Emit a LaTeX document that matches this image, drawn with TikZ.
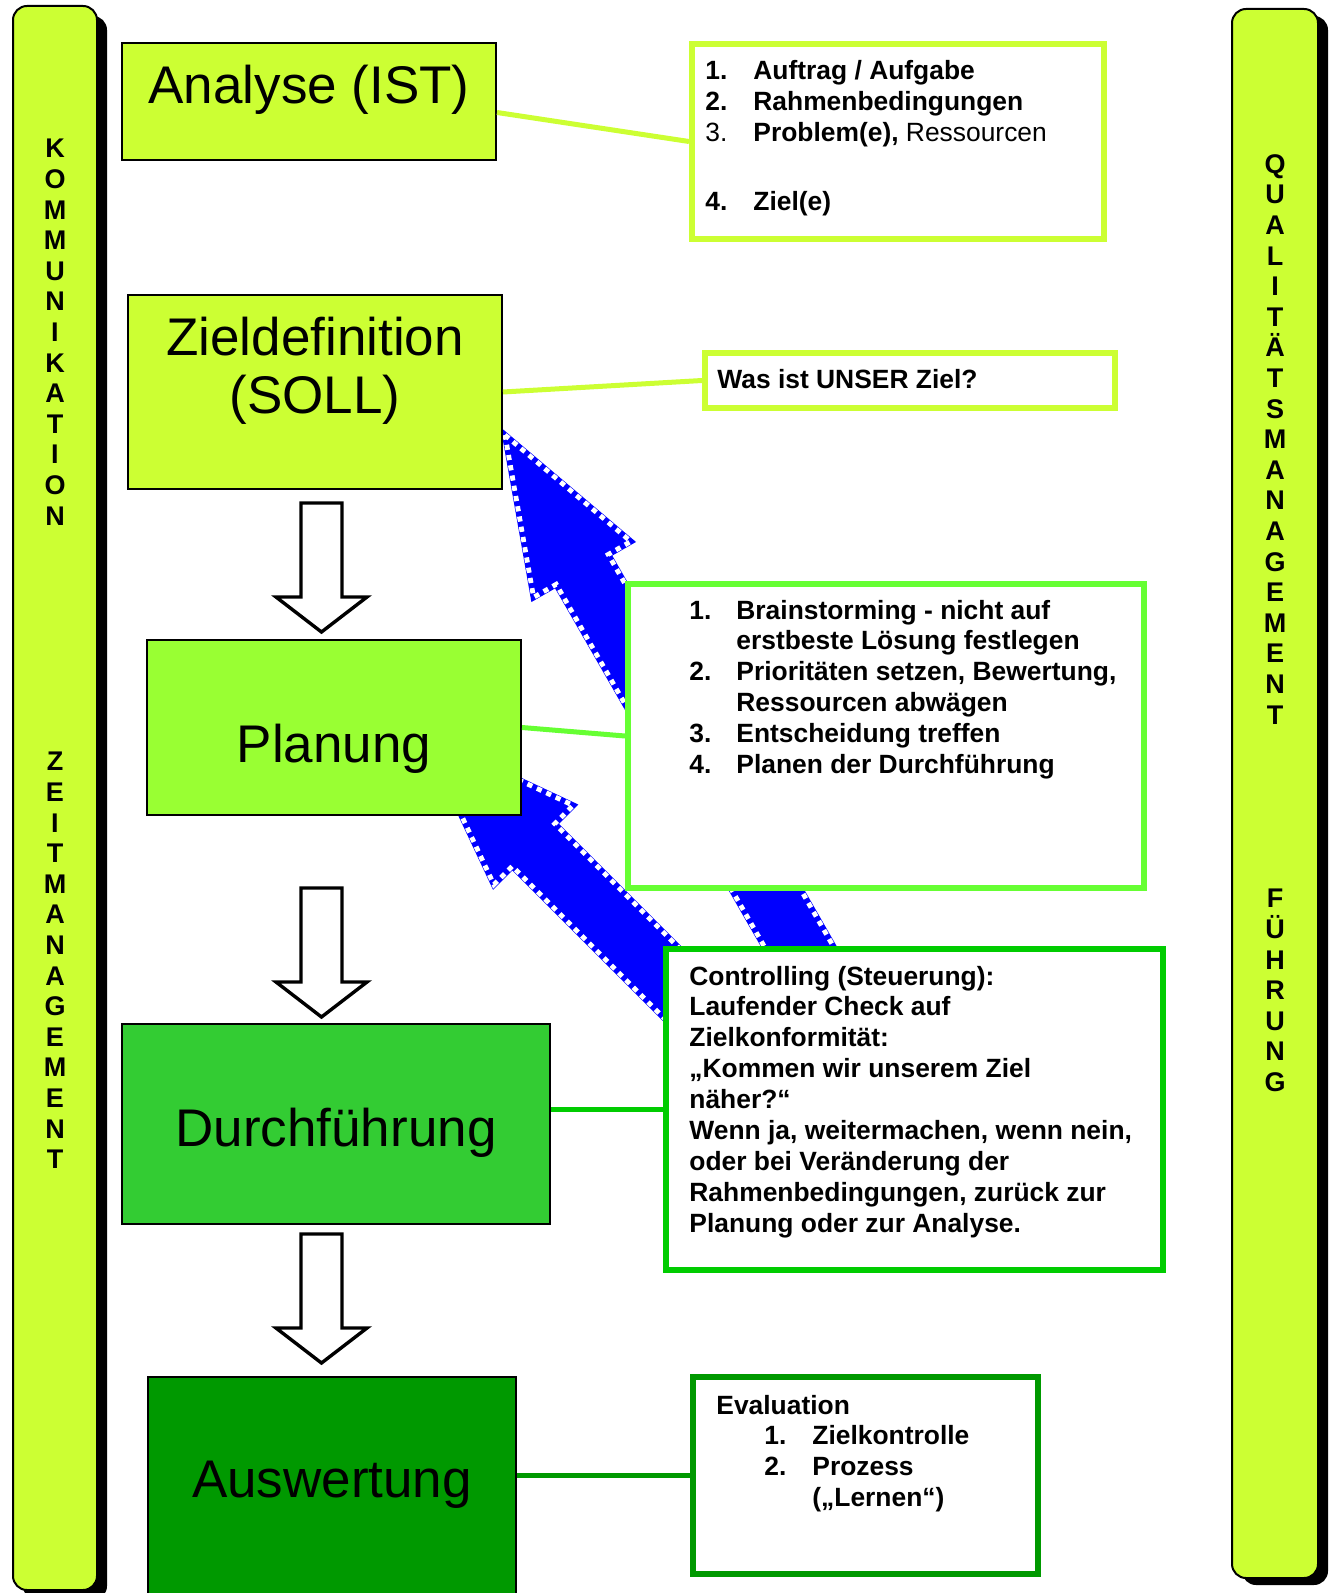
\documentclass[tikz,border=0pt]{standalone}
\usepackage{fontspec}
\setmainfont{Liberation Sans}
\usepackage{tikz}
\usetikzlibrary{fit}
\definecolor{lime}{RGB}{204, 255, 51}
\definecolor{chartreuse}{RGB}{153, 255, 51}
\definecolor{spring}{RGB}{102, 255, 51}
\definecolor{leaf}{RGB}{51, 204, 51}
\definecolor{grass}{RGB}{0, 204, 0}
\definecolor{forest}{RGB}{0, 153, 0}
\definecolor{royal}{RGB}{0, 0, 255}
\tikzset{
  phase/.style={draw=black, line width=1pt, inner sep=0pt},
  phasetext/.style={anchor=base, inner sep=0pt, font=\fontsize{26.5}{29}\selectfont},
  notebox/.style={draw, fill=white, line width=3pt, inner sep=0pt},
  notetext/.style={anchor=base west, inner sep=0pt, font=\fontsize{13.2}{15.45}\selectfont\bfseries},
  link/.style={line width=2.5pt},
  bar/.style={fill=lime, draw=black, line width=1pt, rounded corners=7pt},
  barshadow/.style={fill=black, rounded corners=7pt},
  bartext/.style={anchor=north, inner sep=0pt, align=center, font=\fontsize{13.5}{15.3}\selectfont\bfseries},
  hollow/.style={fill=white, draw=black, line width=1.7pt, line join=miter},
  bigarrowfill/.style={fill=royal, draw=royal, line width=3pt, line join=miter},
  bigarrowedge/.style={draw=white, line width=2.4pt, dash pattern=on 2.6pt off 2.6pt, line join=miter}
}

\begin{document}
\begin{tikzpicture}[x=0.5pt, y=-0.5pt]
            \useasboundingbox (0,0) rectangle (1335,1593);
            % side bars
            \fill[barshadow]     (23,16) rectangle (107,1600);
            \filldraw[bar]       (13,6) rectangle (97,1590);
            \fill[barshadow]     (1242,16) rectangle (1328,1585);
            \filldraw[bar]       (1232,9) rectangle (1318,1578);
            \node[bartext] (kommu) at (55,139) {K\\O\\M\\M\\U\\N\\I\\K\\A\\T\\I\\O\\N};
            \node[bartext] (zeit)  at (55,752) {Z\\E\\I\\T\\M\\A\\N\\A\\G\\E\\M\\E\\N\\T};
            \node[bartext] (quali) at (1275,154) {Q\\U\\A\\L\\I\\T\\Ä\\T\\S\\M\\A\\N\\A\\G\\E\\M\\E\\N\\T};
            \node[bartext] (fuehr) at (1275,889) {F\\Ü\\H\\R\\U\\N\\G};
            % feedback arrows
            \foreach \layer in {bigarrowfill,bigarrowedge} {
              \path[\layer] (505,435) -- (630.8,541.5) -- (608.2,554.5) -- (867.2,1005.3)
                   -- (815.2,1035.1) -- (556.2,584.3) -- (533.6,597.3) -- cycle;
              \path[\layer] (423.9,735.4) -- (573.1,805.4) -- (554.7,823.8) -- (752.7,1021.8)
                   -- (710.3,1064.2) -- (512.3,866.2) -- (493.9,884.6) -- cycle;
            }
            % phases
            \node[phase, fill=lime,       fit={(122,43) (496,160)}]    (ist)   {};
            \node[phase, fill=lime,       fit={(128,295) (502,489)}]   (soll)  {};
            \node[phase, fill=chartreuse, fit={(147,640) (521,815)}]   (plan)  {};
            \node[phase, fill=leaf,       fit={(122,1024) (550,1224)}] (durch) {};
            \node[phase, fill=forest,     fit={(148,1377) (516,1600)}] (ausw)  {};
            % notes
            \node[notebox, draw=lime,   fit={(692,44) (1104,239)}]    (istlist)   {};
            \node[notebox, draw=lime,   fit={(705,353) (1115,408)}]   (zielfrage) {};
            \node[notebox, draw=spring, fit={(628,584) (1144,888)}]   (planlist)  {};
            \node[notebox, draw=grass,  fit={(666,949) (1163,1270)}]  (ctrl)      {};
            \node[notebox, draw=forest, fit={(693,1377) (1038,1574)}] (evalbox)   {};
            \draw[link, lime]   ([yshift=-5.5pt]ist.east) -- (istlist.west);
            \draw[link, lime]   (soll.east) -- (zielfrage.west);
            \draw[link, spring] (plan.east) -- (planlist.west);
            \draw[link, grass]  (ctrl.west -| durch.east) -- (ctrl.west);
            \draw[link, forest] (evalbox.west -| ausw.east) -- (evalbox.west);
            \foreach \ay in {503,888,1234}
              \draw[hollow] (301,\ay) -- (342,\ay) -- (342,\ay+94) -- (367,\ay+94)
                   -- (321.5,\ay+129) -- (276,\ay+94) -- (301,\ay+94) -- cycle;
            \node[phasetext] (isttext)  at (309,104) {Analyse (IST)};
            \node[phasetext] (solltext) at (315,356) {\begin{tabular}[t]{@{}c@{}}Zieldefinition\\(SOLL)\end{tabular}};
            \node[phasetext] (plantext) at (334,762) {Planung};
            \node[phasetext] (durchtext) at (336,1146) {Durchführung};
            \node[phasetext] (auswtext) at (332,1497) {Auswertung};
            \node[notetext] (istitems) at (705,80) {\begin{tabular}[t]{@{}p{24pt}@{}l@{}}
                 1. & Auftrag / Aufgabe\\
                 2. & Rahmenbedingungen\\
                 {\mdseries 3.} & Problem(e), {\mdseries Ressourcen}\\[3.6pt]
                  & \\
                 4. & Ziel(e)\end{tabular}};
            \node[notetext] (zieltext) at (717,389) {Was ist UNSER Ziel?};
            \node[notetext] (planitems) at (689,619) {\begin{tabular}[t]{@{}p{23.5pt}@{}l@{}}
                 1. & Brainstorming - nicht auf\\
                  & erstbeste Lösung festlegen\\
                 2. & Prioritäten setzen, Bewertung,\\
                  & Ressourcen abwägen\\
                 3. & Entscheidung treffen\\
                 4. & Planen der Durchführung\end{tabular}};
            \node[notetext] (ctrltext) at (689,985) {\begin{tabular}[t]{@{}l@{}}
                 Controlling (Steuerung):\\
                 Laufender Check auf\\
                 Zielkonformität:\\
                 „Kommen wir unserem Ziel\\
                 näher?“\\
                 Wenn ja, weitermachen, wenn nein,\\
                 oder bei Veränderung der\\
                 Rahmenbedingungen, zurück zur\\
                 Planung oder zur Analyse.\end{tabular}};
            \node[notetext] (evaltext) at (716,1414) {\begin{tabular}[t]{@{}p{24pt}@{}p{24pt}@{}l@{}}
                 \multicolumn{3}{@{}l@{}}{Evaluation}\\
                  & 1. & Zielkontrolle\\
                  & 2. & Prozess\\
                  & & („Lernen“)\end{tabular}};
        \end{tikzpicture}
\end{document}
